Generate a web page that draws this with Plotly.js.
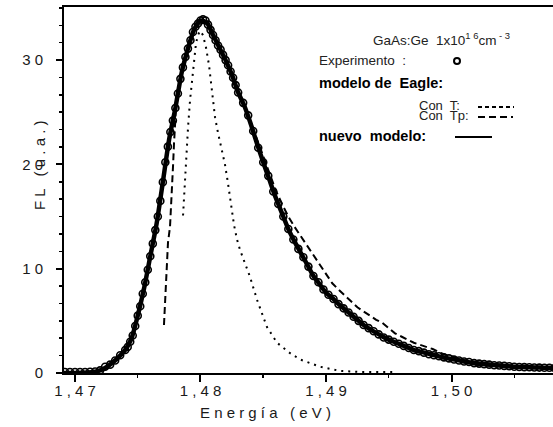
<!DOCTYPE html>
<html>
<head>
<meta charset="utf-8">
<script src="https://cdn.plot.ly/plotly-3.0.1.min.js"></script>
<style>html,body{margin:0;padding:0;background:#fff;}#chart{width:553px;height:427px;}</style>
</head>
<body>
<div id="chart"></div>
<script>
// Experimental PL spectrum (open circles)
const energyExp = [1.4692,1.4696,1.4700,1.4704,1.4708,1.4712,1.4716,1.4720,1.4724,1.4728,1.4732,1.4736,1.4740,
  1.4742,1.4744,1.4746,1.4748,1.4750,1.4752,1.4754,1.4756,1.4758,1.4760,1.4762,1.4764,1.4766,1.4768,1.4770,1.4772,
  1.4774,1.4776,1.4778,1.4780,1.4782,1.4784,1.4786,1.4788,1.4790,1.4792,1.4794,1.4796,1.4798,1.4800,1.4802,1.4804,
  1.4806,1.4808,1.4810,1.4812,1.4814,1.4816,1.4818,1.4820,1.4822,1.4824,1.4826,1.4828,1.4830,
  1.4834,1.4838,1.4842,1.4846,1.4850,1.4854,1.4858,1.4862,1.4866,1.4870,1.4874,1.4878,1.4882,1.4886,1.4890,1.4894,
  1.4898,1.4902,1.4906,1.4910,1.4914,1.4918,1.4922,1.4926,1.4930,1.4934,1.4938,1.4942,1.4946,1.4950,1.4954,1.4958,
  1.4962,1.4966,1.4970,1.4974,1.4978,1.4982,1.4986,1.4990,1.4994,1.4998,1.5002,1.5006,1.5010,1.5014,1.5018,1.5022,
  1.5026,1.5030,1.5034,1.5038,1.5042,1.5046,1.5050,1.5054,1.5058,1.5062,1.5066,1.5070,1.5074,1.5078,1.5082];
const flExp = [0.1,0.1,0.1,0.1,0.1,0.12,0.15,0.25,0.6,0.8,1.2,1.7,2.2,
  2.5,3.0,3.6,4.5,5.5,6.4,7.6,8.7,9.9,11.2,12.4,13.7,15.0,16.5,18.3,20.2,
  21.7,23.1,24.2,25.4,26.8,28.2,29.3,30.3,31.1,31.9,32.7,33.2,33.5,33.8,33.9,33.8,
  33.4,32.9,32.4,31.9,31.4,31.0,30.5,30.0,29.5,28.9,28.3,27.6,26.9,
  25.9,24.7,23.2,21.6,20.2,18.9,17.4,16.2,15.0,13.8,12.8,11.9,11.1,10.2,9.3,8.7,
  8.0,7.5,7.1,6.6,6.2,5.8,5.4,5.0,4.6,4.3,4.0,3.7,3.4,3.2,3.0,2.8,
  2.6,2.4,2.2,2.1,1.95,1.8,1.7,1.6,1.5,1.4,1.3,1.2,1.1,1.05,0.95,0.9,
  0.85,0.8,0.75,0.72,0.68,0.64,0.6,0.58,0.56,0.55,0.53,0.52,0.5,0.5,0.48];

// Nuevo modelo (solid line)
const energyNuevo = [1.4690,1.4700,1.4710,1.4715,1.4720,1.4725,1.4730,1.4735,1.4740,1.4745,1.4750,1.4755,1.4760,
  1.4765,1.4770,1.4775,1.4780,1.4785,1.4790,1.4795,1.4800,1.4805,1.4810,1.4815,1.4820,1.4825,1.4830,1.4835,1.4840,
  1.4845,1.4850,1.4855,1.4860,1.4865,1.4870,1.4875,1.4880,1.4885,1.4890,1.4895,1.4900,1.4905,1.4910,1.4915,1.4920,
  1.4925,1.4930,1.4935,1.4940,1.4945,1.4950,1.4955,1.4960,1.4965,1.4970,1.4975,1.4980,1.4985,1.4990,1.4995,1.5000,
  1.5005,1.5010,1.5015,1.5020,1.5025,1.5030,1.5035,1.5040,1.5045,1.5050,1.5055,1.5060,1.5065,1.5070,1.5075,1.5080,1.5085];
const flNuevo = [0,0,0.05,0.1,0.25,0.55,1.0,1.55,2.2,3.3,5.5,8.1,11.2,
  14.3,18.3,22.4,25.4,28.8,31.1,32.95,33.8,33.6,32.4,31.2,30.0,28.6,26.9,25.6,23.9,
  22.0,20.2,18.5,16.8,15.3,13.8,12.6,11.5,10.4,9.3,8.5,7.7,7.2,6.6,6.1,5.6,
  5.1,4.6,4.2,3.85,3.5,3.2,2.95,2.7,2.45,2.2,2.05,1.9,1.75,1.6,1.45,1.35,
  1.25,1.1,1.0,0.92,0.86,0.8,0.74,0.7,0.65,0.6,0.58,0.55,0.53,0.52,0.5,0.5,0.48];

// Modelo de Eagle, con T (dotted)
const energyConT = [1.47861,1.47869,1.47877,1.47893,1.47901,1.47917,1.47933,1.47948,1.47964,1.47980,1.47996,
  1.48020,1.48044,1.48068,1.48084,1.48100,1.48116,1.48140,1.48164,1.48195,1.48219,1.48243,1.48267,1.48291,1.48315,
  1.48355,1.48395,1.48451,1.48530,1.48610,1.48714,1.48793,1.48953,1.49112,1.49271,1.49550];
const flConT = [15.1,16.9,18.8,21.4,23.6,26.2,28.1,30.0,31.6,32.4,32.8,
  32.4,31.2,29.5,27.8,26.2,24.5,23.0,21.7,20.0,18.2,16.3,14.2,12.8,11.8,
  10.5,9.2,7.0,4.4,2.9,1.9,1.3,0.6,0.2,0.1,0.1];

// Modelo de Eagle, con Tp (dashed)
const energyConTp = [1.47709,1.47717,1.47725,1.47733,1.47741,1.47757,1.47773,1.47781,1.47789,1.47805,
  1.4785,1.4790,1.4795,1.4800,1.4805,1.4810,1.4815,1.4820,1.4825,1.4830,1.4835,1.4840,1.4845,1.4850,1.4855,
  1.4860,1.4865,1.4870,1.4875,1.4880,1.4885,1.4890,1.4895,1.4900,1.4905,1.4910,1.4915,1.4920,1.4925,1.4930,
  1.4935,1.4940,1.4945,1.4950,1.4955,1.4960,1.4965,1.4970,1.4975,1.4980,1.4985,1.4990,1.4995,1.5000,
  1.5010,1.5020,1.5030,1.5040,1.5050,1.5060,1.5070,1.5082];
const flConTp = [4.6,6.5,8.2,10.3,12.5,14.0,17.2,19.8,22.0,25.5,
  28.8,31.1,33.0,33.8,33.6,32.4,31.2,30.0,28.6,26.9,25.7,24.1,22.4,20.7,19.1,
  17.5,16.2,15.0,14.0,13.1,12.1,11.2,10.3,9.4,8.6,8.0,7.4,6.9,6.3,5.9,
  5.5,5.1,4.8,4.3,3.8,3.5,3.2,2.9,2.7,2.5,2.3,2.0,1.75,1.6,
  1.25,1.05,0.9,0.8,0.7,0.65,0.6,0.55];

// Axis ticks
const xTickVals = [1.47, 1.48, 1.49, 1.50];
const xTickText = ['1 , 4 7', '1 , 4 8', '1 , 4 9', '1 , 5 0'];
const yTickVals = [0, 10, 20, 30];
const yTickText = ['0', '1 0', '2 0', '3 0'];

// Texts
const xTitle = 'E n e r g í a   ( e V )';
const yTitle = 'F L   ( u . a . )';
const sampleText = 'GaAs:Ge  1x10<sup>1 6</sup>cm<sup> - 3</sup>';
const expText = 'Experimento  :';
const eagleText = '<b>modelo de  Eagle:</b>';
const conTText = 'Con  T:';
const conTpText = 'Con  Tp:';
const nuevoText = '<b>nuevo  modelo:</b>';

// pixel helpers (plot area: left 64, top 7, width 489, height 366)
const L = 64, T = 7, W = 489, H = 366;
const px = x => (x - L) / W;
const py = y => (T + H - y) / H;

const font = 'Liberation Sans, Arial, sans-serif';
const ink = '#1a1a1a';

const traces = [
  {x: energyConT, y: flConT, type: 'scatter', mode: 'lines', name: 'Con T',
   line: {color: '#000', width: 2, dash: '2px,5px'}, hoverinfo: 'skip'},
  {x: energyConTp, y: flConTp, type: 'scatter', mode: 'lines', name: 'Con Tp',
   line: {color: '#000', width: 2, dash: '7px,4px'}, hoverinfo: 'skip'},
  {x: energyNuevo, y: flNuevo, type: 'scatter', mode: 'lines', name: 'nuevo modelo',
   line: {color: '#000', width: 4.5, shape: 'spline', smoothing: 0.6}},
  {x: energyExp, y: flExp, type: 'scatter', mode: 'markers', name: 'Experimento',
   marker: {symbol: 'circle-open', size: 7, color: '#000', line: {width: 1.6, color: '#000'}}}
];

const layout = {
  width: 553, height: 427,
  margin: {l: L, r: 553 - L - W, t: T, b: 427 - T - H, pad: 0},
  paper_bgcolor: '#fff', plot_bgcolor: '#fff',
  showlegend: false,
  font: {family: font, color: ink},
  xaxis: {
    range: [1.469124, 1.508088], showgrid: false, zeroline: false,
    showline: true, linecolor: '#000', linewidth: 2, mirror: true,
    tickmode: 'array', tickvals: xTickVals, ticktext: xTickText,
    ticks: 'outside', ticklen: 7, tickwidth: 2, tickcolor: '#000',
    ticklabelstandoff: -4,
    tickfont: {family: font, size: 15, color: ink},
    minor: {tickmode: 'linear', tick0: 1.465, dtick: 0.01, ticks: 'outside', ticklen: 3, tickwidth: 1.5, tickcolor: '#000', showgrid: false}
  },
  yaxis: {
    range: [0, 35.09], showgrid: false, zeroline: false,
    showline: true, linecolor: '#000', linewidth: 2, mirror: false,
    tickmode: 'array', tickvals: yTickVals, ticktext: yTickText,
    ticks: 'outside', ticklen: 6, tickwidth: 2, tickcolor: '#000',
    ticklabelstandoff: 10,
    tickfont: {family: font, size: 15, color: ink},
    minor: {tickmode: 'linear', tick0: 0, dtick: 10 / 6, ticks: 'outside', ticklen: 3, tickwidth: 1.5, tickcolor: '#000', showgrid: false}
  },
  annotations: [
    {xref: 'paper', yref: 'paper', x: px(265), y: py(412), text: xTitle, showarrow: false,
     xanchor: 'center', yanchor: 'middle', font: {family: font, size: 15, color: ink}},
    {xref: 'paper', yref: 'paper', x: px(39), y: py(166), text: yTitle, showarrow: false, textangle: -90,
     xanchor: 'center', yanchor: 'middle', font: {family: font, size: 15, color: ink}},
    {xref: 'paper', yref: 'paper', x: px(371), y: py(39), text: sampleText, showarrow: false,
     xanchor: 'left', yanchor: 'middle', font: {family: font, size: 13.5, color: '#222'}},
    {xref: 'paper', yref: 'paper', x: px(317), y: py(60), text: expText, showarrow: false,
     xanchor: 'left', yanchor: 'middle', font: {family: font, size: 13.5, color: '#222'}},
    {xref: 'paper', yref: 'paper', x: px(317), y: py(83), text: eagleText, showarrow: false,
     xanchor: 'left', yanchor: 'middle', font: {family: font, size: 14.5, color: '#000'}},
    {xref: 'paper', yref: 'paper', x: px(417), y: py(106), text: conTText, showarrow: false,
     xanchor: 'left', yanchor: 'middle', font: {family: font, size: 13, color: '#222'}},
    {xref: 'paper', yref: 'paper', x: px(417), y: py(115), text: conTpText, showarrow: false,
     xanchor: 'left', yanchor: 'middle', font: {family: font, size: 13, color: '#222'}},
    {xref: 'paper', yref: 'paper', x: px(317), y: py(136), text: nuevoText, showarrow: false,
     xanchor: 'left', yanchor: 'middle', font: {family: font, size: 14.5, color: '#000'}}
  ],
  shapes: [
    {type: 'circle', xref: 'paper', yref: 'paper', x0: px(454), x1: px(460), y0: py(64), y1: py(58),
     line: {color: '#000', width: 2}},
    {type: 'line', xref: 'paper', yref: 'paper', x0: px(478), x1: px(514), y0: py(107), y1: py(107),
     line: {color: '#000', width: 2, dash: '4px,3px'}},
    {type: 'line', xref: 'paper', yref: 'paper', x0: px(478), x1: px(513), y0: py(117), y1: py(117),
     line: {color: '#000', width: 2, dash: '7px,4px'}},
    {type: 'line', xref: 'paper', yref: 'paper', x0: px(455), x1: px(492), y0: py(137), y1: py(137),
     line: {color: '#000', width: 2}}
  ]
};

Plotly.newPlot('chart', traces, layout, {staticPlot: true, displayModeBar: false});
</script>
</body>
</html>
